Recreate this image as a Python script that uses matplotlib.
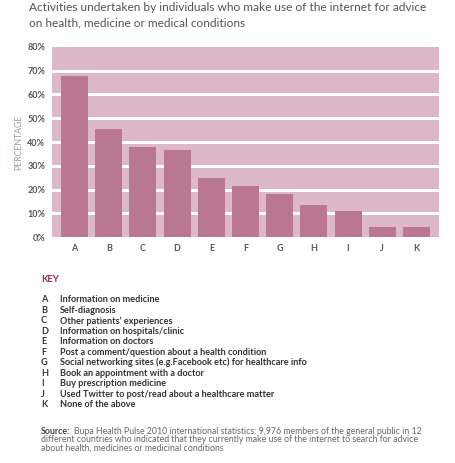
import matplotlib.pyplot as plt
import numpy as np

categories = ["A", "B", "C", "D", "E", "F", "G", "H", "I", "J", "K"]
values = [67.5, 45.3, 37.8, 36.6, 24.7, 21.5, 18.1, 13.6, 10.9, 4.3, 4.3]
descriptions = [
    "Information on medicine",
    "Self-diagnosis",
    "Other patients\u2019 experiences",
    "Information on hospitals/clinic",
    "Information on doctors",
    "Post a comment/question about a health condition",
    "Social networking sites (e.g.Facebook etc) for healthcare info",
    "Book an appointment with a doctor",
    "Buy prescription medicine",
    "Used Twitter to post/read about a healthcare matter",
    "None of the above",
]
yticks = [0, 10, 20, 30, 40, 50, 60, 70, 80]

W, H = 456, 463
plt.rcParams['font.family'] = ['Lato', 'DejaVu Sans']
fig = plt.figure(figsize=(W / 100, H / 100), dpi=100)


def px(x, y):
    return x / W, 1 - y / H


band = "#dcb8c8"
bar_col = "#b9788f"
text_col = "#555555"

ax = fig.add_axes([52 / W, 1 - 237.3 / H, (439 - 52) / W, (237.3 - 46.7) / H])
ax.set_facecolor(band)
x = np.arange(len(categories))
ax.bar(x, values, width=0.79, color=bar_col, zorder=3)
for t in yticks[1:-1]:
    ax.axhline(t, color="white", lw=2.2, zorder=2)
ax.set_xlim(-0.66, len(categories) - 1 + 0.66)
ax.set_ylim(0, 80)
ax.set_yticks(yticks)
ax.set_yticklabels([f"{t}%" for t in yticks], fontsize=6.5, color=text_col, fontweight="bold")
ax.set_xticks(x)
ax.set_xticklabels(categories, fontsize=6.5, color=text_col, fontweight="bold")
ax.tick_params(length=0, pad=5)
for s in ax.spines.values():
    s.set_visible(False)
ax.set_ylabel("PERCENTAGE", fontsize=6.3, color="#a898a8", labelpad=3)

title_lines = ["Activities undertaken by individuals who make use of the internet for advice",
               "on health, medicine or medical conditions"]
for i, line in enumerate(title_lines):
    fig.text(*px(29, 7.5 + i * 15.5), line, fontsize=8.6, color=text_col, va="center")

fig.text(*px(41, 279), "KEY", fontsize=6.8, color="#8a2a5a", fontweight="bold", va="center")
for i, (c, d) in enumerate(zip(categories, descriptions)):
    yy = 300 + i * 10.45
    fig.text(*px(41, yy), c, fontsize=6.6, color="#333333", fontweight="bold", va="center")
    fig.text(*px(60, yy), d, fontsize=6.6, color="#333333", fontweight="bold", va="center")

source_lines = ["Bupa Health Pulse 2010 international statistics: 9,976 members of the general public in 12",
                "different countries who indicated that they currently make use of the internet to search for advice",
                "about health, medicines or medicinal conditions"]
fig.text(*px(41, 431), "Source:", fontsize=6.4, color="#444444", fontweight="bold", va="center")
fig.text(*px(74, 431), source_lines[0], fontsize=6.3, color="#666666", va="center")
for i, line in enumerate(source_lines[1:]):
    fig.text(*px(41, 439.5 + i * 8.8), line, fontsize=6.3, color="#666666", va="center")

fig.savefig("out.png", dpi=100)
